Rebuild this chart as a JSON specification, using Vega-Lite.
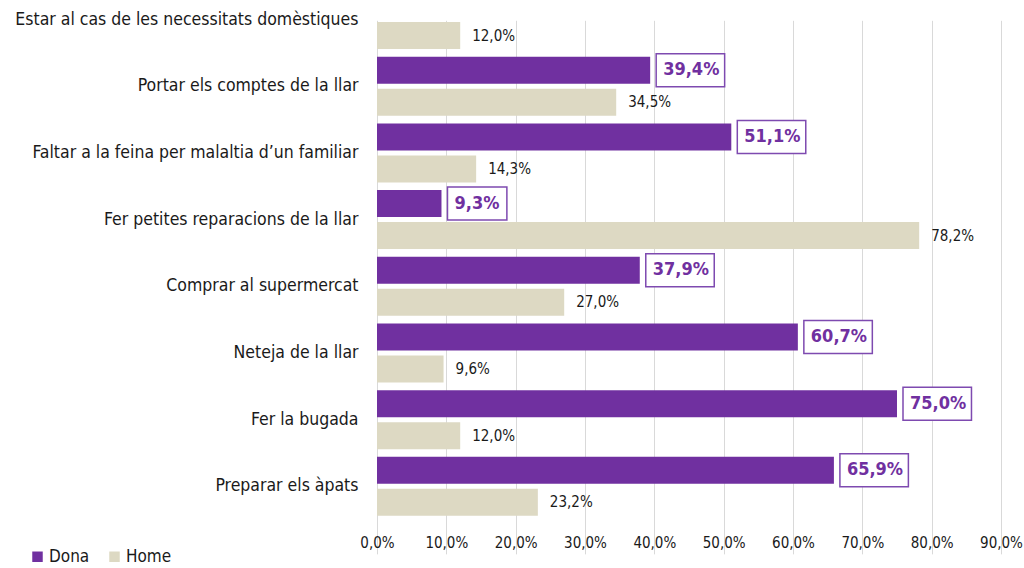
{
  "$schema": "https://vega.github.io/schema/vega-lite/v6.json",
  "width": 624,
  "height": 500,
  "autosize": {"type": "none"},
  "padding": {"left": 377, "top": 20, "right": 23, "bottom": 48},
  "background": "white",
  "config": {
    "locale": {"number": {"decimal": ",", "thousands": ".", "grouping": [3], "currency": ["", " €"]}},
    "view": {"stroke": null},
    "font": "DejaVu Sans Condensed, Liberation Sans Narrow, sans-serif"
  },
  "data": {
    "values": [
      {"activitat": "Estar al cas de les necessitats domèstiques", "sexe": "Home", "pct": 0.120},
      {"activitat": "Portar els comptes de la llar", "sexe": "Dona", "pct": 0.394},
      {"activitat": "Portar els comptes de la llar", "sexe": "Home", "pct": 0.345},
      {"activitat": "Faltar a la feina per malaltia d’un familiar", "sexe": "Dona", "pct": 0.511},
      {"activitat": "Faltar a la feina per malaltia d’un familiar", "sexe": "Home", "pct": 0.143},
      {"activitat": "Fer petites reparacions de la llar", "sexe": "Dona", "pct": 0.093},
      {"activitat": "Fer petites reparacions de la llar", "sexe": "Home", "pct": 0.782},
      {"activitat": "Comprar al supermercat", "sexe": "Dona", "pct": 0.379},
      {"activitat": "Comprar al supermercat", "sexe": "Home", "pct": 0.270},
      {"activitat": "Neteja de la llar", "sexe": "Dona", "pct": 0.607},
      {"activitat": "Neteja de la llar", "sexe": "Home", "pct": 0.096},
      {"activitat": "Fer la bugada", "sexe": "Dona", "pct": 0.750},
      {"activitat": "Fer la bugada", "sexe": "Home", "pct": 0.120},
      {"activitat": "Preparar els àpats", "sexe": "Dona", "pct": 0.659},
      {"activitat": "Preparar els àpats", "sexe": "Home", "pct": 0.232}
    ]
  },
  "encoding": {
    "y": {
      "field": "activitat",
      "type": "nominal",
      "sort": [
        "Estar al cas de les necessitats domèstiques",
        "Portar els comptes de la llar",
        "Faltar a la feina per malaltia d’un familiar",
        "Fer petites reparacions de la llar",
        "Comprar al supermercat",
        "Neteja de la llar",
        "Fer la bugada",
        "Preparar els àpats"
      ],
      "scale": {"range": [-33.85, 499.7], "paddingInner": 0.115, "paddingOuter": 0.0577},
      "axis": {
        "title": null,
        "domain": false,
        "ticks": false,
        "labelPadding": 19,
        "labelFontSize": 17.5,
        "labelColor": "#1a1a1a",
        "labelLimit": 400
      }
    },
    "yOffset": {
      "field": "sexe",
      "type": "nominal",
      "sort": ["Dona", "Home"],
      "scale": {"paddingInner": 0.156, "paddingOuter": 0}
    },
    "x": {
      "field": "pct",
      "type": "quantitative",
      "scale": {"domain": [0, 0.9], "nice": false},
      "axis": {
        "title": null,
        "values": [0, 0.1, 0.2, 0.3, 0.4, 0.5, 0.6, 0.7, 0.8, 0.9],
        "format": ".1%",
        "labelOverlap": false,
        "labelFlush": false,
        "domain": false,
        "grid": true,
        "gridColor": "#d9d9d9",
        "tickColor": "#d9d9d9",
        "tickSize": 5,
        "labelPadding": 10,
        "labelFontSize": 15,
        "labelColor": "#1a1a1a"
      }
    }
  },
  "layer": [
    {
      "mark": {"type": "bar"},
      "encoding": {
        "color": {
          "field": "sexe",
          "type": "nominal",
          "sort": ["Dona", "Home"],
          "scale": {"domain": ["Dona", "Home"], "range": ["#7030A0", "#DDD9C3"]},
          "legend": {
            "title": null,
            "orient": "none",
            "direction": "horizontal",
            "legendX": -348,
            "legendY": 528,
            "symbolType": "square",
            "symbolSize": 110,
            "symbolStrokeWidth": 0,
            "labelFontSize": 17,
            "labelColor": "#1a1a1a",
            "labelOffset": 3,
            "columnPadding": 16
          }
        }
      }
    },
    {
      "transform": [{"filter": "datum.sexe == 'Dona'"}],
      "mark": {
        "type": "point",
        "filled": false,
        "fill": "white",
        "fillOpacity": 1,
        "stroke": "#7E4AB0",
        "strokeWidth": 1.5,
        "opacity": 1,
        "size": 1089,
        "xOffset": 6
      },
      "encoding": {
        "shape": {
          "condition": {"test": "datum.pct < 0.1", "value": "M0,-1H3.6V1H0Z"},
          "value": "M0,-1H4.15V1H0Z"
        }
      }
    },
    {
      "transform": [{"filter": "datum.sexe == 'Dona'"}],
      "mark": {
        "type": "text",
        "align": "left",
        "baseline": "middle",
        "dx": 13,
        "fontSize": 18,
        "fontWeight": "bold",
        "color": "#7030A0"
      },
      "encoding": {"text": {"field": "pct", "type": "quantitative", "format": ".1%"}}
    },
    {
      "transform": [{"filter": "datum.sexe == 'Home'"}],
      "mark": {
        "type": "text",
        "align": "left",
        "baseline": "middle",
        "dx": 12,
        "fontSize": 15,
        "color": "#1a1a1a"
      },
      "encoding": {"text": {"field": "pct", "type": "quantitative", "format": ".1%"}}
    }
  ]
}
